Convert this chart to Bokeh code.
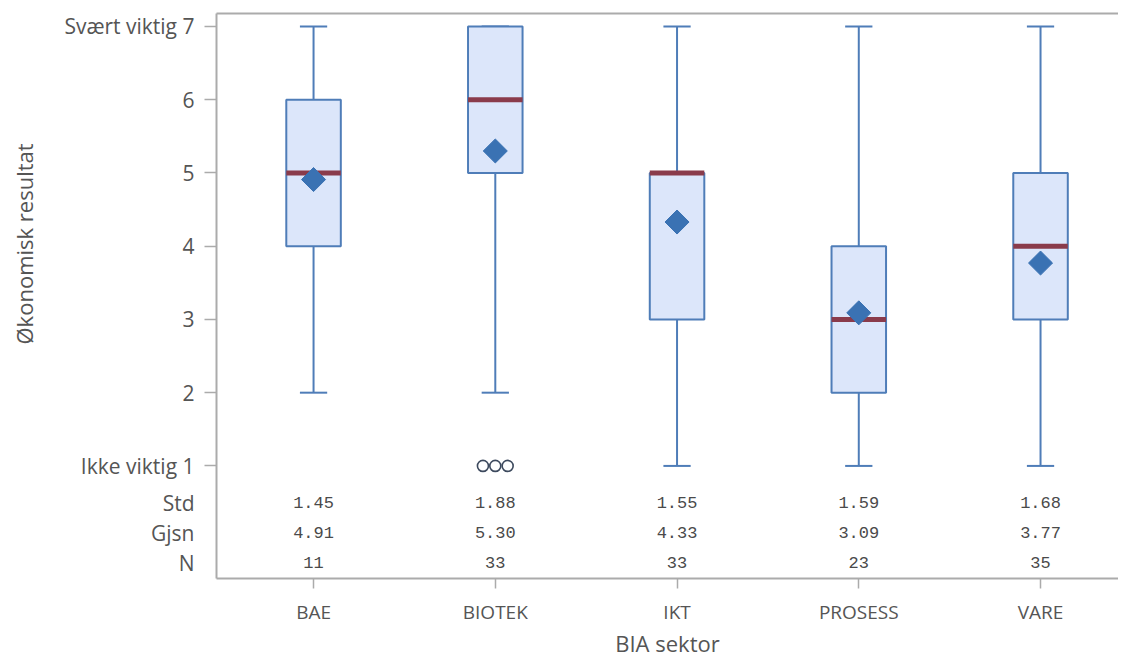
import math
from bokeh.plotting import figure
from bokeh.models import Range1d, FixedTicker, LinearAxis, Title
from bokeh.core.properties import value
from bokeh.embed import file_html
from bokeh.resources import INLINE

# ---------------- data ----------------
sectors = ["BAE", "BIOTEK", "IKT", "PROSESS", "VARE"]
whisker_low = [2, 2, 1, 1, 1]
q1 = [4, 5, 3, 2, 3]
median = [5, 6, 5, 3, 4]
q3 = [6, 7, 5, 4, 5]
whisker_high = [7, 7, 7, 7, 7]
mean = [4.91, 5.30, 4.33, 3.09, 3.77]
std = [1.45, 1.88, 1.55, 1.59, 1.68]
n_obs = [11, 33, 33, 23, 35]
outlier_sector = ["BIOTEK", "BIOTEK", "BIOTEK"]
outlier_value = [1, 1, 1]
y_ticks = [1, 2, 3, 4, 5, 6, 7]
y_tick_labels = {7: "Svært viktig 7", 1: "Ikke viktig 1"}
table_rows = ["Std", "Gjsn", "N"]

# ---------------- layout ----------------
FONT = "Open Sans"
TXT = "#555555"
AX = "#ababab"
BOX_LINE = "#4f7db8"
BOX_FILL = "#dce6fa"
MED = "#8a3b4b"
MEAN = "#3a72b3"

xpos = [i + 0.5 for i in range(len(sectors))]
xmap = dict(zip(sectors, xpos))
x_start, x_end = -0.034, 4.929
y_start, y_end = -0.537, 7.177
row_y = [0.497, 0.088, -0.320]
box_w = 0.30
cap_w = 0.15
out_offsets = [-0.068, 0.0, 0.068]

p = figure(width=1118, height=660, output_backend="svg", toolbar_location=None,
           x_range=Range1d(x_start, x_end), y_range=Range1d(y_start, y_end),
           min_border_left=216, min_border_right=0, min_border_top=13,
           min_border_bottom=0, x_axis_location=None, y_axis_location=None)
p.grid.visible = False
p.outline_line_color = None
p.background_fill_color = "white"

# y axis: labels for the scale and the statistics rows; tick marks only on the scale
yax = LinearAxis(ticker=FixedTicker(ticks=row_y + y_ticks, minor_ticks=y_ticks))
overrides = {k: v for k, v in y_tick_labels.items()}
overrides.update({ry: name for ry, name in zip(row_y, table_rows)})
yax.major_label_overrides = overrides
yax.major_label_text_font = FONT
yax.major_label_text_font_size = "21px"
yax.major_label_text_color = TXT
yax.major_tick_out = 0
yax.major_tick_in = 0
yax.minor_tick_out = 12
yax.minor_tick_in = 0
yax.major_label_standoff = 10
yax.axis_line_color = AX
yax.axis_line_width = 2
yax.minor_tick_line_color = AX
yax.minor_tick_line_width = 1.5
# spacer between tick labels and the title
yax.axis_label = " "
yax.axis_label_text_font_size = "1px"
yax.axis_label_standoff = 19
p.add_layout(yax, "left")

ytitle = Title(text="Økonomisk resultat", align="left", offset=234, standoff=0,
               text_font=FONT, text_font_size="22px", text_font_style="normal",
               text_color=TXT)
p.add_layout(ytitle, "left")

xax = LinearAxis(ticker=FixedTicker(ticks=xpos))
xax.major_label_overrides = {x: s for x, s in zip(xpos, sectors)}
xax.major_label_text_font = FONT
xax.major_label_text_font_size = "19px"
xax.major_label_text_color = TXT
xax.major_tick_out = 10
xax.major_tick_in = 0
xax.minor_tick_out = 0
xax.minor_tick_in = 0
xax.major_label_standoff = 10
xax.axis_line_color = AX
xax.axis_line_width = 2
xax.major_tick_line_color = AX
xax.major_tick_line_width = 1.5
xax.axis_label = "BIA sektor"
xax.axis_label_text_font = FONT
xax.axis_label_text_font_size = "22px"
xax.axis_label_text_font_style = "normal"
xax.axis_label_text_color = TXT
xax.axis_label_standoff = 0
p.add_layout(xax, "below")

top = LinearAxis(ticker=FixedTicker(ticks=[]))
top.axis_line_color = AX
top.axis_line_width = 2
top.major_tick_out = 0
top.major_tick_in = 0
top.minor_tick_out = 0
top.minor_tick_in = 0
top.major_label_standoff = 0
top.major_label_text_font_size = "0px"
p.add_layout(top, "above")

# whiskers
p.segment(x0=xpos, x1=xpos, y0=q3, y1=whisker_high, line_color=BOX_LINE, line_width=2)
p.segment(x0=xpos, x1=xpos, y0=whisker_low, y1=q1, line_color=BOX_LINE, line_width=2)
p.segment(x0=[x - cap_w / 2 for x in xpos], x1=[x + cap_w / 2 for x in xpos],
          y0=whisker_high, y1=whisker_high, line_color=BOX_LINE, line_width=2)
p.segment(x0=[x - cap_w / 2 for x in xpos], x1=[x + cap_w / 2 for x in xpos],
          y0=whisker_low, y1=whisker_low, line_color=BOX_LINE, line_width=2)

# boxes
p.vbar(x=xpos, width=box_w, bottom=q1, top=q3, fill_color=BOX_FILL,
       line_color=BOX_LINE, line_width=2)

# medians
p.segment(x0=[x - box_w / 2 for x in xpos], x1=[x + box_w / 2 for x in xpos],
          y0=median, y1=median, line_color=MED, line_width=5)

# means
p.scatter(x=xpos, y=mean, marker="square", angle=math.pi / 4, size=17,
          fill_color=MEAN, line_color=MEAN)

# outliers
ox = [xmap[s] + o for s, o in zip(outlier_sector, out_offsets)]
p.scatter(x=ox, y=outlier_value, marker="circle", size=11, fill_color=None,
          line_color="#3d4a5e", line_width=1.6)

# statistics table
row_vals = [[f"{v:.2f}" for v in std], [f"{v:.2f}" for v in mean], [str(v) for v in n_obs]]
for ry, vals in zip(row_y, row_vals):
    p.text(x=xpos, y=[ry] * len(xpos), text=vals, text_align="center",
           text_baseline="middle", text_font=value("Liberation Mono"),
           text_font_size="17px", text_color="#4a4a4a")

open("out.html", "w").write(file_html(p, INLINE))
